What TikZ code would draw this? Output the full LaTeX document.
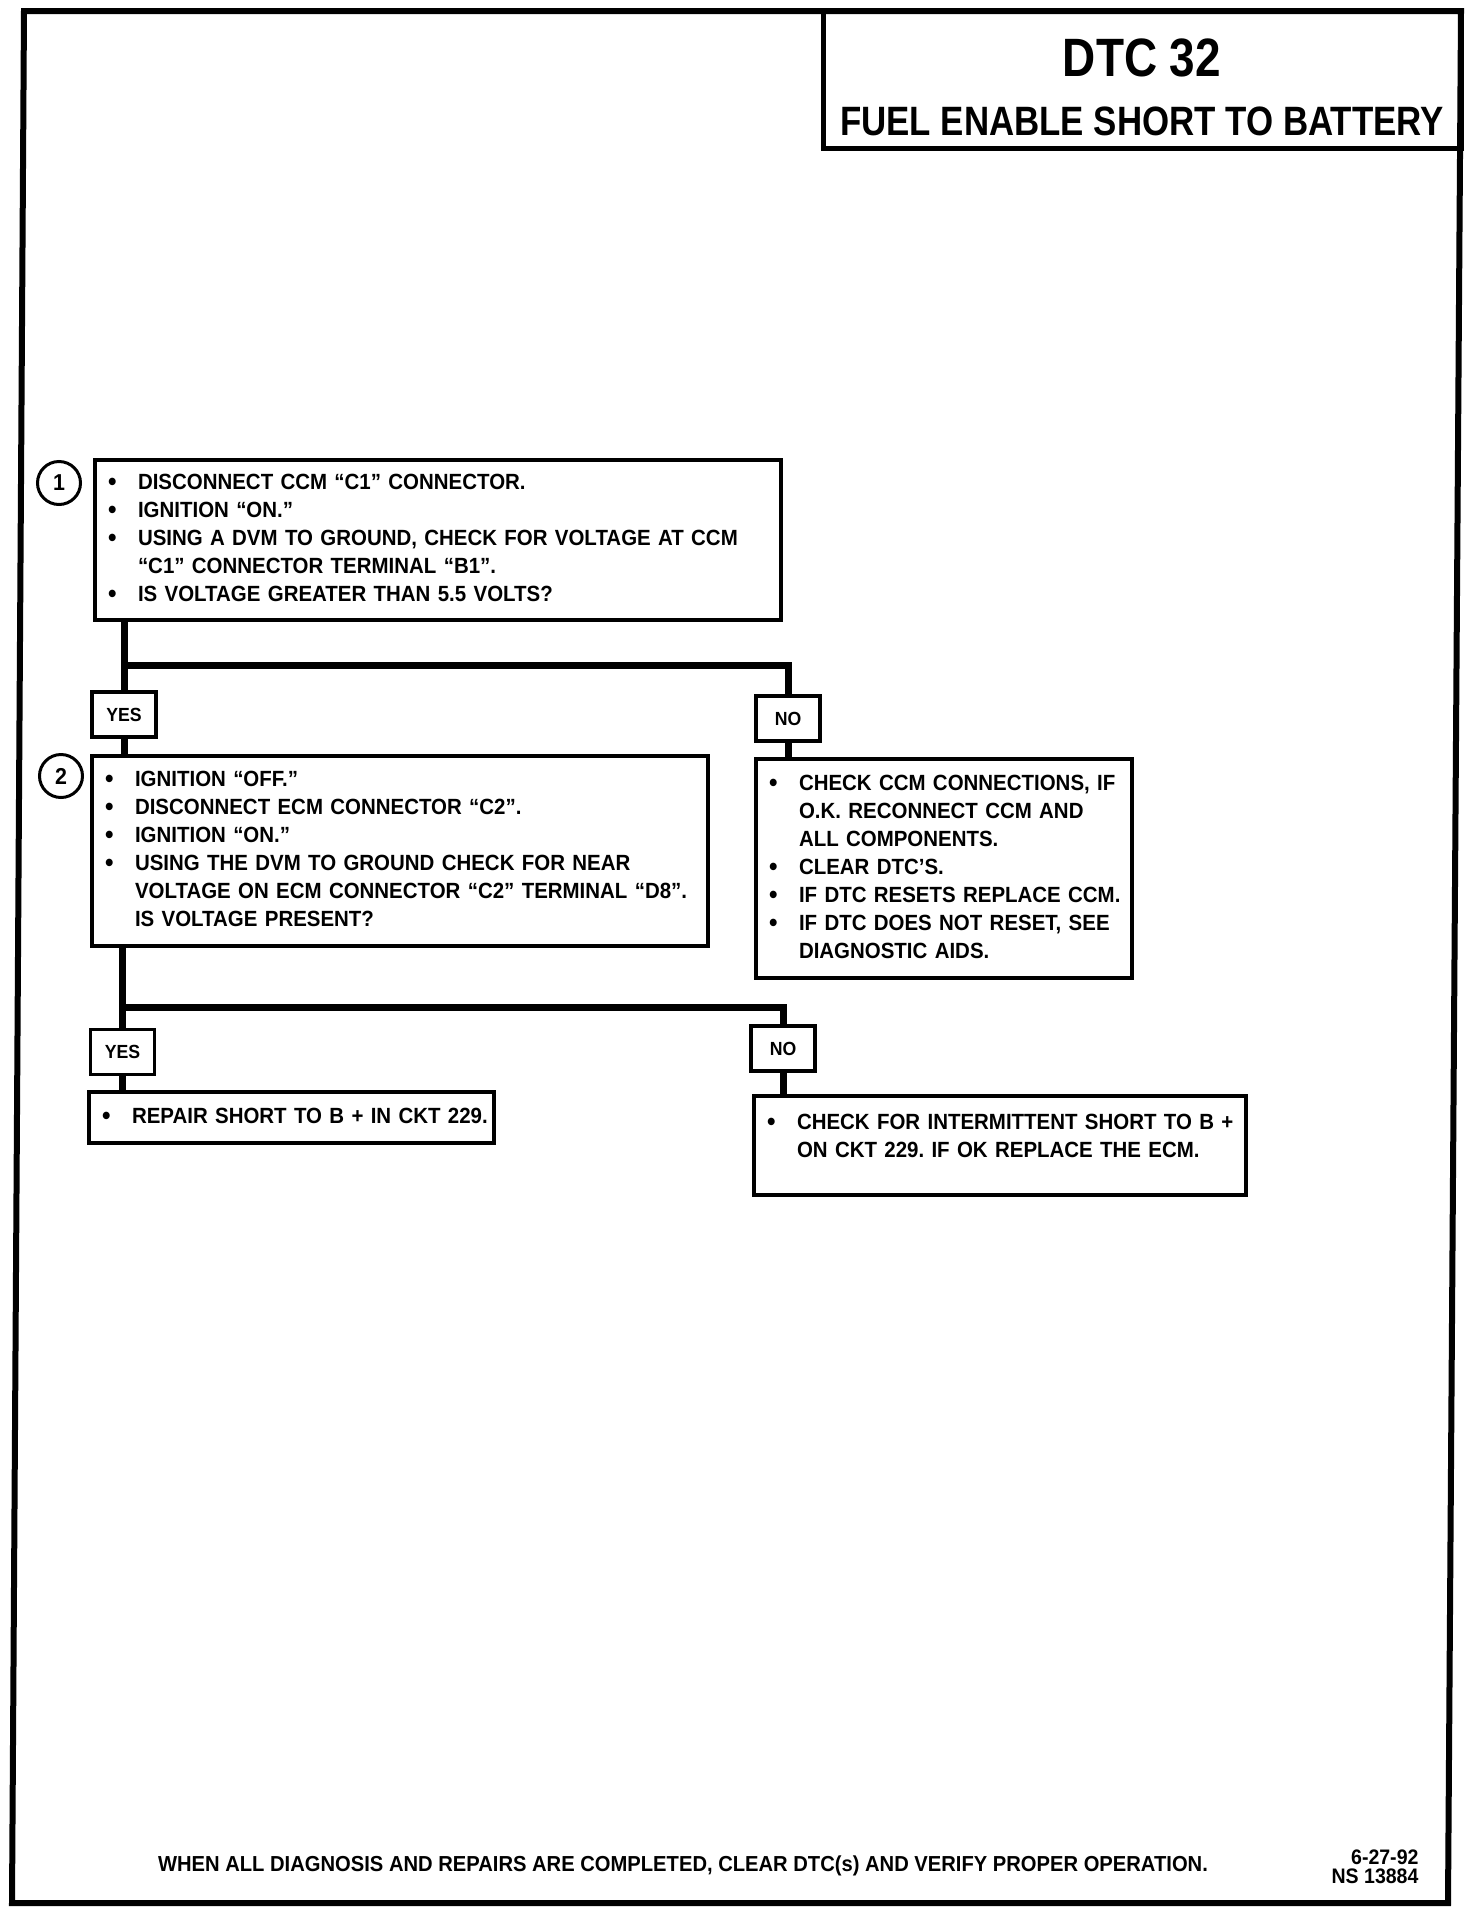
\documentclass[tikz,border=0pt]{standalone}
\usepackage{fontspec}
\setmainfont{Liberation Sans}[FakeStretch=0.93]
\newfontfamily\titlefont{Liberation Sans}[FakeStretch=0.85]
\frenchspacing
\newcommand\stepfont{\fontsize{22}{28}\selectfont\bfseries}
\newcommand\bigdot{\raisebox{-1.3pt}{\fontsize{26}{28}\selectfont\textbullet}}
\newcommand\itm[1]{\makebox[29pt][l]{\strut\hspace*{-1pt}\bigdot}\mbox{#1}}
\newcommand\cnt[1]{\hspace*{29pt}\strut\mbox{#1}}
\newcommand\lowgap{\rule[-24pt]{0pt}{24pt}}

\begin{document}
\begin{tikzpicture}[x=1pt, y=-1pt,
    stepbox/.style={draw, line width=3.5pt, anchor=north west, outer sep=0pt,
        inner xsep=14pt, inner ysep=4pt, align=left, font=\stepfont},
    answer/.style={draw, line width=3.5pt, minimum width=64pt, minimum height=45pt,
        inner sep=0pt, font=\fontsize{19}{19}\selectfont\bfseries},
    numcircle/.style={draw, circle, line width=3pt, minimum size=43pt, inner sep=0pt,
        font=\fontsize{23}{23}\selectfont\bfseries},
    flow/.style={line width=7pt}]
    \useasboundingbox (0,0) rectangle (1472,1914);
    % page frame and title
    \draw[line width=6pt] (24,11) -- (1461,11) -- (1448,1903) -- (12,1903) -- cycle;
    \node[draw, line width=5pt, anchor=north west, outer sep=0pt,
        minimum width=638pt, minimum height=137pt] (titlebox) at (823,11) {};
    \node[anchor=base, font=\titlefont\fontsize{54}{54}\selectfont\bfseries] (dtc) at (1142,76) {DTC 32};
    \node[anchor=base, font=\titlefont\fontsize{41}{41}\selectfont\bfseries] (dtcname) at (1142,135) {FUEL ENABLE SHORT TO BATTERY};

    % steps
    \node[numcircle] (num1) at (59,483) {1};
    \node[stepbox, text width=658pt, minimum height=160pt] (step1) at (95,460) {%
        \itm{DISCONNECT CCM “C1” CONNECTOR.}\\
        \itm{IGNITION “ON.”}\\
        \itm{USING A DVM TO GROUND, CHECK FOR VOLTAGE AT CCM}\\
        \cnt{“C1” CONNECTOR TERMINAL “B1”.}\\
        \itm{IS VOLTAGE GREATER THAN 5.5 VOLTS?}};
    \node[answer] (yes1) at (124,714.5) {YES};
    \node[answer] (no1) at (788,718.5) {NO};
    \node[numcircle] (num2) at (61,776) {2};
    \node[stepbox, text width=588pt, minimum height=190pt] (step2) at (92,756) {%
        \itm{IGNITION “OFF.”}\\
        \itm{DISCONNECT ECM CONNECTOR “C2”.}\\
        \itm{IGNITION “ON.”}\\
        \itm{USING THE DVM TO GROUND CHECK FOR NEAR}\\
        \cnt{VOLTAGE ON ECM CONNECTOR “C2” TERMINAL “D8”.}\\
        \cnt{IS VOLTAGE PRESENT?}};
    \node[stepbox, text width=348pt, minimum height=219pt] (fix1) at (756,759) {%
        \itm{CHECK CCM CONNECTIONS, IF}\\
        \cnt{O.K. RECONNECT CCM AND}\\
        \cnt{ALL COMPONENTS.}\\
        \itm{CLEAR DTC’S.}\\
        \itm{IF DTC RESETS REPLACE CCM.}\\
        \itm{IF DTC DOES NOT RESET, SEE}\\
        \cnt{DIAGNOSTIC AIDS.}};
    \node[answer] (yes2) at (122.5,1052) {YES};
    \node[answer] (no2) at (783,1048.5) {NO};
    \node[stepbox, text width=377pt, minimum height=51pt] (fix2) at (89,1092) {%
        \itm{REPAIR SHORT TO B + IN CKT 229.}};
    \node[stepbox, text width=464pt, minimum height=99pt] (fix3) at (754,1096) {%
        \itm{CHECK FOR INTERMITTENT SHORT TO B +}\\
        \cnt{ON CKT 229. IF OK REPLACE THE ECM.}\lowgap};

    % connectors
    \coordinate (fork1) at (124,665);
    \coordinate (fork2) at (122.5,1007);
    \draw[flow] (yes1.north |- step1.south) -- (yes1.north);
    \draw[flow] (fork1) -| (no1.north);
    \draw[flow] (yes1.south) -- (yes1.south |- step2.north);
    \draw[flow] (no1.south) -- (no1.south |- fix1.north);
    \draw[flow] (yes2.north |- step2.south) -- (yes2.north);
    \draw[flow] (fork2) -| (no2.north);
    \draw[flow] (yes2.south) -- (yes2.south |- fix2.north);
    \draw[flow] (no2.south) -- (no2.south |- fix3.north);

    % footer
    \node[anchor=base, font=\fontsize{21.7}{22}\selectfont\bfseries] (note) at (683,1871)
        {WHEN ALL DIAGNOSIS AND REPAIRS ARE COMPLETED, CLEAR DTC(s) AND VERIFY PROPER OPERATION.};
    \node[anchor=east, align=right, font=\fontsize{21}{19}\selectfont\bfseries] (stamp) at (1422,1867)
        {6-27-92\\NS 13884};
\end{tikzpicture}
\end{document}
